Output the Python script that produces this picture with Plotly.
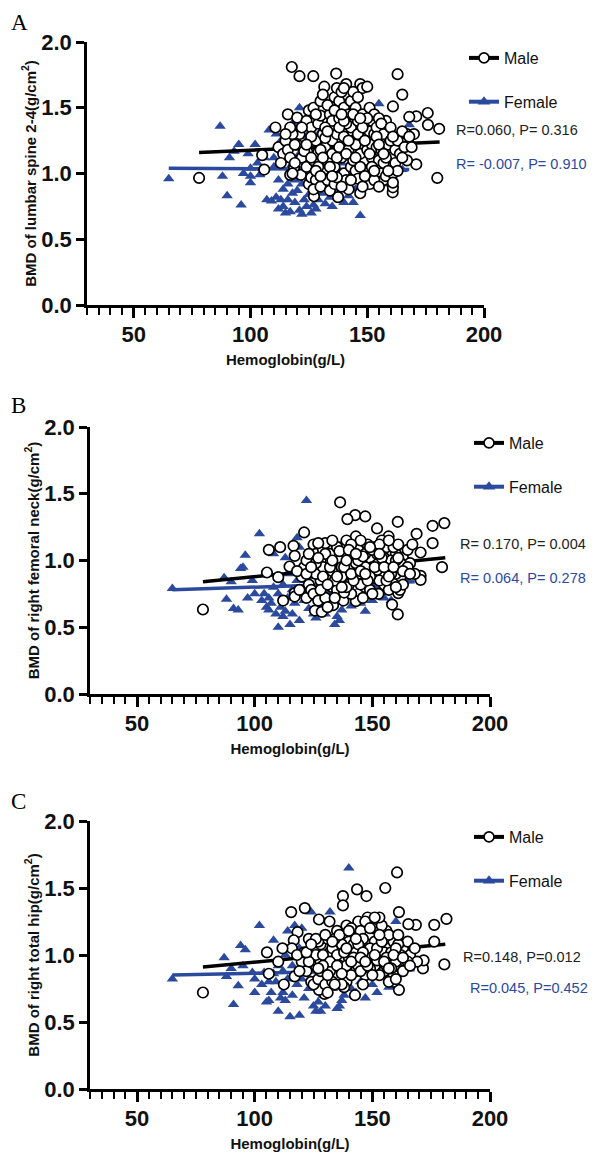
import plotly.graph_objects as go

# ---------------- DATA ----------------
# Panel A: lumbar spine 2-4
male_a_hb = [78, 117.7, 121, 126.9, 136.7, 163, 165, 131.6, 147, 148, 150, 175.9, 171, 168, 180.8, 176, 171, 180,
             161, 158, 165, 167, 170, 168, 160.9, 161, 147, 137.5, 127.2, 110.7, 116, 120, 105, 105.9, 118.7, 117,
             121.6, 124.3, 128,
             120, 121, 122, 123, 124, 125, 126, 127, 124, 125, 126, 127, 128, 129, 129, 128, 127,
             130, 131, 130, 131, 132, 133, 131, 130, 133, 134, 135, 134, 136, 135, 136, 134, 136, 132, 133, 135,
             137, 138, 139, 140, 141, 142, 143, 137, 138, 139, 140, 141, 142, 143, 144, 138, 140, 142, 144, 137,
             139, 141, 143, 144, 140,
             145, 146, 147, 148, 149, 150, 151, 145, 146, 147, 148, 149, 150, 151, 152, 145, 146, 147, 148, 150,
             152, 151, 149, 152,
             153, 154, 155, 156, 157, 158, 159, 160, 153, 154, 155, 156, 157, 158, 159, 160, 161, 162, 153, 155,
             157, 160, 162, 161,
             163, 164, 165, 166, 167, 163, 165, 168, 169,
             112, 114, 115, 116, 117, 118, 119, 117, 118, 119, 113, 115,
             126, 128, 130, 132, 134, 136, 138, 140, 142, 144, 146, 148, 150, 152, 154, 156, 158, 160, 129, 131,
             133, 135, 137, 139, 141, 143, 145, 147, 149, 151, 153, 155, 157, 159, 161, 122, 124, 126, 128, 130]
male_a_bmd = [0.966, 1.81, 1.74, 1.74, 1.76, 1.755, 1.60, 1.66, 1.68, 1.65, 1.66, 1.46, 1.435, 1.43, 1.34, 1.37, 1.07,
              0.966, 1.51, 1.40, 1.31, 1.30, 1.30, 1.22, 0.857, 0.895, 0.85, 0.82, 0.827, 1.35, 1.45, 1.425, 1.14,
              1.03, 1.05, 0.99, 0.99, 1.165, 1.02,
              1.22, 1.30, 1.12, 1.17, 1.40, 1.48, 1.35, 1.50, 1.05, 0.92, 0.97, 1.10, 1.25, 1.38, 1.16, 0.95, 0.88,
              1.55, 1.60, 1.44, 1.30, 1.20, 1.10, 1.02, 0.90, 0.95, 1.36, 1.25, 1.45, 1.58, 1.15, 1.05, 0.87, 0.92,
              1.27, 1.52, 1.40,
              1.65, 1.55, 1.62, 1.50, 1.68, 1.45, 1.35, 1.30, 1.20, 1.12, 1.00, 0.95, 0.88, 1.05, 1.25, 1.42, 1.28,
              1.18, 1.10, 0.97, 0.90, 1.38, 1.55, 1.62, 1.65,
              1.50, 1.40, 1.30, 1.20, 1.10, 1.00, 0.92, 1.02, 0.96, 1.15, 1.45, 1.38, 1.28, 1.50, 1.40, 1.22, 1.58,
              1.05, 0.90, 1.18, 1.12, 1.32, 0.98, 1.22,
              1.30, 1.20, 1.10, 1.00, 0.95, 1.25, 1.15, 1.05, 1.45, 1.35, 1.42, 1.18, 1.08, 0.98, 1.22, 1.12, 1.00,
              1.18, 0.95, 0.90, 1.30, 1.25, 1.08, 0.93,
              1.25, 1.15, 1.32, 1.20, 1.10, 1.02, 1.12, 1.28, 1.20,
              1.20, 1.15, 1.25, 1.18, 1.12, 1.30, 1.22, 1.35, 1.00, 1.08, 1.08, 1.30,
              1.28, 1.45, 1.18, 1.35, 1.05, 1.48, 1.35, 1.40, 1.25, 1.45, 1.30, 1.35, 1.42, 1.05, 1.28, 1.38, 1.12,
              1.35, 1.05, 1.12, 1.32, 0.98, 1.12, 1.45, 1.15, 0.95, 1.12, 1.42, 1.25, 1.15, 1.02, 1.22, 1.15, 1.02,
              1.28, 1.35, 1.22, 1.12, 1.02, 0.98]
female_a_hb = [65, 87, 88, 90, 91, 93, 95, 96, 97, 99, 100, 100, 102, 104, 105, 107, 108, 109, 111, 111, 112, 113, 114,
               115, 116, 117, 118, 119, 120, 121, 122, 123, 124, 125, 126, 127, 128, 129, 130, 132, 134, 135, 136,
               138, 140, 142, 144, 147, 155, 168, 121, 125, 118, 113, 115, 117, 119, 121, 123, 124, 126, 128, 129,
               131, 133, 135, 137, 139, 141, 143, 145, 147, 149, 151, 153, 155, 157, 159, 161, 165, 110, 112, 114,
               116, 118, 120, 122, 127, 130, 132, 134, 110, 106, 103, 100]
female_a_bmd = [0.96, 1.36, 0.98, 0.83, 1.12, 1.17, 1.22, 0.76, 1.00, 1.15, 0.93, 1.04, 1.22, 0.99, 1.04, 0.80, 1.33,
                0.79, 0.82, 1.30, 0.73, 0.80, 0.75, 0.70, 0.80, 0.71, 0.85, 0.78, 0.87, 0.72, 0.69, 0.80, 0.75, 0.84,
                0.70, 0.76, 0.73, 0.80, 0.85, 0.77, 0.82, 0.75, 0.88, 0.80, 0.78, 0.83, 0.78, 0.68, 1.53, 1.37, 1.50,
                1.48, 1.38, 1.25, 1.10, 1.05, 0.95, 1.15, 1.00, 1.28, 1.22, 1.10, 0.95, 1.05, 0.90, 1.02, 0.95, 1.08,
                0.92, 0.98, 0.88, 1.00, 0.92, 0.96, 0.90, 0.95, 1.02, 0.92, 0.97, 1.03, 1.12, 0.95, 0.88, 0.92, 1.12,
                1.05, 0.92, 0.98, 1.32, 1.15, 1.25, 1.05, 1.12, 1.08, 0.98]
male_a_fit_x = [78, 181]
male_a_fit_y = [1.16, 1.24]
female_a_fit_x = [65, 168]
female_a_fit_y = [1.04, 1.03]

# Panel B: right femoral neck
male_b_hb = [78, 136.3, 142.7, 147, 139.4, 160.8, 175.6, 180.6, 175.6, 179.6, 168.8, 170.5, 170.5, 170.5, 160.8,
             158.4, 152, 156.9, 121, 106, 110.8, 105.2, 110, 112.1, 116.5, 117, 114.8, 117, 117, 122, 125.6, 128.5,
             133.3, 137.7, 143, 148.6, 152.6, 161, 161.7,
             120, 121, 122, 123, 124, 125, 126, 127, 128, 129, 130, 131, 132, 133, 134, 135, 136, 137, 138, 139,
             140, 141, 142, 143, 144, 145, 146, 147, 148, 149, 150, 151, 152, 153, 154, 155, 156, 157, 158, 159,
             160, 161, 162, 163, 164, 165, 166, 167, 168, 125, 127, 130, 133, 135, 137, 139, 141, 143, 145, 147,
             149, 151, 153, 155, 157, 159, 161, 163, 128, 132, 136, 140, 144, 148, 152, 156, 160, 126, 134, 142,
             150, 158, 131, 138, 146, 154, 162, 123, 129, 135, 141, 147, 153, 119, 118, 137, 143, 149, 145, 139,
             133, 127, 157, 165, 160,
             126, 128, 130, 132, 134, 136, 138, 140, 142, 144, 146, 148, 150, 152, 154, 156, 158, 160, 129, 131,
             133, 135, 137, 139, 141, 143, 145, 147, 149, 151, 153, 155, 157, 159, 161, 122, 124, 127, 163, 166]
male_b_bmd = [0.633, 1.436, 1.34, 1.33, 1.31, 1.29, 1.26, 1.28, 1.13, 0.95, 1.20, 1.06, 0.885, 0.855, 0.596, 0.67,
              1.24, 1.18, 1.21, 1.08, 1.10, 0.91, 0.875, 0.70, 1.11, 1.035, 0.955, 0.756, 0.73, 0.72, 0.625, 0.615,
              0.665, 0.70, 0.695, 0.756, 0.75, 0.756, 0.78,
              0.88, 0.95, 1.00, 0.82, 0.78, 1.12, 1.05, 0.92, 0.85, 1.08, 1.13, 0.98, 0.88, 0.80, 1.02, 0.95, 0.85,
              1.10, 1.05, 0.90, 0.82, 1.00, 0.93, 1.18, 1.08, 0.98, 0.88, 0.80, 1.12, 1.02, 0.95, 0.87, 1.05, 0.98,
              0.90, 0.82, 1.10, 1.00, 0.93, 0.85, 1.05, 0.95, 0.88, 1.02, 0.92, 1.08, 0.98, 1.12, 0.90, 0.75, 0.70,
              0.72, 0.92, 0.78, 0.88, 1.15, 0.75, 0.85, 1.15, 1.05, 0.78, 1.10, 0.85, 1.02, 0.78, 1.10, 1.12, 0.82,
              1.00, 1.05, 1.00, 0.95, 0.90, 0.92, 0.93, 0.95, 0.90, 0.90, 0.85, 1.05, 1.08, 1.00, 0.65, 0.76, 0.72,
              1.15, 0.98, 1.05, 0.95, 1.10, 1.12, 0.95, 1.12, 0.78, 0.92, 0.95, 0.98, 0.88, 0.82, 0.80, 1.15, 1.13,
              1.15, 0.95, 0.80,
              0.98, 0.78, 1.05, 0.95, 0.72, 1.07, 0.95, 1.08, 0.85, 1.00, 1.03, 0.85, 0.75, 0.97, 1.02, 0.85, 0.90,
              1.00, 0.88, 0.82, 1.00, 0.88, 0.80, 1.00, 0.90, 1.05, 0.92, 0.90, 1.10, 0.95, 1.05, 0.95, 0.88, 0.95,
              1.02, 0.90, 0.95, 1.02, 0.92, 0.90]
female_b_hb = [65, 87, 88, 90, 91, 93, 94, 95, 96, 97, 99, 100, 102, 104, 105, 106, 107, 108, 109, 110, 111, 112,
               113, 114, 115, 116, 117, 118, 119, 120, 121, 122, 123, 124, 125, 126, 127, 128, 130, 131, 132, 134,
               135, 136, 137, 138, 140, 141, 143, 145, 147, 150, 152, 155, 158, 165, 112, 114, 116, 118, 120, 122,
               124, 126, 128, 130, 132, 134, 136, 138, 110, 108, 106, 103, 125, 140, 145, 150, 113, 119]
female_b_bmd = [0.79, 0.87, 0.71, 0.84, 0.64, 0.63, 0.94, 0.95, 1.04, 0.72, 0.85, 0.75, 1.20, 0.75, 0.65, 0.63, 0.68,
                1.05, 0.60, 0.50, 0.65, 0.58, 0.62, 0.72, 0.52, 0.60, 0.68, 1.17, 0.55, 0.78, 0.70, 1.45, 0.64, 0.88,
                0.60, 0.57, 0.72, 0.66, 0.60, 0.75, 0.68, 0.52, 0.58, 0.55, 0.63, 0.78, 1.15, 0.66, 0.70, 0.68, 0.62,
                0.70, 0.80, 0.72, 0.70, 0.85, 0.82, 0.90, 0.78, 0.85, 0.95, 0.85, 0.72, 0.80, 0.88, 1.00, 0.85, 0.92,
                0.80, 0.70, 0.75, 0.80, 0.72, 0.70, 1.00, 0.85, 0.80, 0.82, 1.02, 1.10]
male_b_fit_x = [78, 181]
male_b_fit_y = [0.84, 1.02]
female_b_fit_x = [65, 168]
female_b_fit_y = [0.78, 0.84]

# Panel C: right total hip
male_c_hb = [78, 160.5, 155.5, 143.5, 147.5, 137.5, 137.5, 115.5, 121.3, 127.3, 131.8, 161.3, 181.5, 176.3, 168.5,
             165.3, 176.3, 180.6, 171.5, 171.8, 161.3, 158.9, 142.6, 129.7, 127.3, 112.4, 117, 106, 105.2, 110,
             118.2, 116.6, 115.8, 111.8,
             120, 121, 122, 123, 124, 125, 126, 127, 128, 129, 130, 131, 132, 133, 134, 135, 136, 137, 138, 139,
             140, 141, 142, 143, 144, 145, 146, 147, 148, 149, 150, 151, 152, 153, 154, 155, 156, 157, 158, 159,
             160, 161, 162, 163, 164, 165, 166, 168, 169, 125, 127, 130, 133, 135, 137, 139, 141, 143, 145, 147,
             149, 151, 153, 155, 157, 159, 161, 163, 128, 132, 136, 140, 144, 148, 152, 156, 160, 126, 134, 142,
             150, 158, 131, 138, 146, 154, 162, 123, 129, 135, 141, 147, 153, 119, 118, 137, 143, 149, 145, 139,
             133, 127, 157, 165, 160, 151, 146,
             126, 128, 130, 132, 134, 136, 138, 140, 142, 144, 146, 148, 150, 152, 154, 156, 158, 160, 129, 131,
             133, 135, 137, 139, 141, 143, 145, 147, 149, 151, 153, 155, 157, 159, 161, 122, 124, 127, 163, 166]
male_c_bmd = [0.72, 1.616, 1.50, 1.49, 1.44, 1.44, 1.37, 1.32, 1.35, 1.265, 1.25, 1.32, 1.27, 1.225, 1.225, 1.23,
              1.10, 0.93, 0.90, 0.96, 0.74, 0.80, 0.70, 0.71, 0.74, 0.78, 0.84, 0.86, 1.02, 0.95, 1.17, 1.11, 1.05,
              1.05,
              0.95, 1.02, 0.88, 1.12, 0.80, 1.05, 0.92, 0.98, 1.08, 0.85, 0.95, 1.12, 1.02, 0.90, 0.82, 1.18, 1.05,
              0.95, 0.88, 1.22, 1.10, 1.00, 0.92, 1.15, 1.25, 1.05, 0.95, 0.85, 1.28, 1.15, 1.02, 0.92, 1.22, 1.10,
              1.00, 0.88, 1.18, 1.05, 0.95, 0.85, 1.12, 1.00, 0.92, 1.05, 0.95, 1.10, 1.00, 1.05, 0.95, 0.78, 0.82,
              0.78, 1.05, 0.85, 1.08, 0.80, 1.20, 0.88, 1.18, 1.02, 0.90, 1.10, 0.85, 1.02, 0.80, 1.10, 1.08, 0.88,
              0.95, 0.88, 0.92, 0.98, 0.92, 0.98, 0.96, 0.92, 0.95, 1.00, 1.12, 1.08, 1.20, 1.02, 0.72, 0.76, 0.78,
              1.22, 1.00, 0.95, 1.00, 1.00, 0.85, 1.25, 1.28, 0.88, 1.00, 0.78, 1.02, 1.05, 0.88, 0.92, 0.80, 1.10,
              1.15, 0.95, 0.82, 1.28, 1.12,
              1.12, 0.88, 1.15, 0.95, 0.78, 1.15, 1.02, 1.18, 0.98, 1.08, 1.02, 0.92, 0.85, 1.05, 1.10, 0.98, 0.90,
              1.05, 0.92, 0.85, 1.10, 0.92, 0.86, 1.05, 0.95, 1.12, 0.98, 0.95, 1.20, 1.00, 1.15, 0.95, 0.90, 1.00,
              1.15, 1.02, 1.08, 0.90, 0.98, 0.92]
female_c_hb = [65, 87, 88, 90, 91, 93, 94, 95, 96, 99, 100, 100, 102, 104, 105, 106, 107, 108, 109, 110, 111, 112,
               113, 114, 115, 116, 117, 118, 119, 120, 121, 123, 124, 125, 126, 127, 128, 129, 130, 132, 133, 135,
               136, 137, 138, 140, 141, 143, 145, 147, 150, 152, 157, 160, 165, 112, 114, 116, 118, 120, 122, 124,
               126, 128, 130, 132, 134, 136, 138, 110, 108, 106, 103, 125, 140, 145, 150, 113, 119, 131]
female_c_bmd = [0.82, 0.98, 0.84, 0.90, 0.63, 0.77, 1.07, 0.92, 1.04, 0.87, 0.72, 0.82, 1.22, 0.87, 0.65, 0.66, 0.72,
                1.11, 0.80, 0.58, 0.68, 0.72, 0.66, 1.18, 0.54, 0.70, 1.22, 0.78, 0.55, 1.20, 0.68, 0.75, 1.32, 0.62,
                0.58, 0.65, 0.58, 0.70, 0.62, 1.32, 0.75, 0.60, 0.62, 0.66, 0.70, 1.65, 0.75, 0.72, 0.80, 0.68, 0.78,
                0.72, 0.76, 1.25, 0.90, 0.88, 0.82, 0.92, 0.88, 0.82, 0.95, 0.88, 1.05, 0.82, 0.88, 0.95, 0.85, 0.78,
                0.82, 0.92, 0.86, 0.80, 0.78, 0.78, 0.86, 0.90, 0.88, 1.00, 1.05, 1.00]
male_c_fit_x = [78, 181]
male_c_fit_y = [0.91, 1.08]
female_c_fit_x = [65, 168]
female_c_fit_y = [0.85, 0.89]

y_titles = ["BMD of lumbar spine 2-4(g/cm<sup>2</sup>)",
            "BMD of right femoral neck(g/cm<sup>2</sup>)",
            "BMD of right total hip(g/cm<sup>2</sup>)"]
x_title = "Hemoglobin(g/L)"
panel_letters = ["A", "B", "C"]
male_stats = ["R=0.060, P= 0.316", "R= 0.170, P= 0.004", "R=0.148, P=0.012"]
female_stats = ["R= -0.007, P= 0.910", "R= 0.064, P= 0.278", "R=0.045, P=0.452"]

# ---------------- STYLE ----------------
W, H = 601, 1154
OFF = 8  # page body margin: figure is drawn 8px right/down of window origin
BLUE = "#2B4A9E"
FONT = "Arial, Liberation Sans, sans-serif"


def fx(px):
    return (px - OFF) / W


def fy(py):
    return 1 - (py - OFF) / H


panels = [
    dict(male=(male_a_hb, male_a_bmd), female=(female_a_hb, female_a_bmd),
         mfit=(male_a_fit_x, male_a_fit_y), ffit=(female_a_fit_x, female_a_fit_y),
         xpx=(87, 484), ypx=(305, 42), leg=(464, 41), stat=(454, 130, 454, 164), letter=(9, 8)),
    dict(male=(male_b_hb, male_b_bmd), female=(female_b_hb, female_b_bmd),
         mfit=(male_b_fit_x, male_b_fit_y), ffit=(female_b_fit_x, female_b_fit_y),
         xpx=(90, 490), ypx=(694, 427), leg=(469, 426), stat=(458, 544, 458, 578), letter=(9, 391)),
    dict(male=(male_c_hb, male_c_bmd), female=(female_c_hb, female_c_bmd),
         mfit=(male_c_fit_x, male_c_fit_y), ffit=(female_c_fit_x, female_c_fit_y),
         xpx=(90, 490), ypx=(1089, 821), leg=(469, 820), stat=(461, 957, 468, 988), letter=(9, 787)),
]

fig = go.Figure()
annotations = []
layout = {}
for i, p in enumerate(panels):
    n = "" if i == 0 else str(i + 1)
    xa, ya = "x" + n, "y" + n
    lg = "legend" + n
    fig.add_trace(go.Scatter(x=p["ffit"][0], y=p["ffit"][1], mode="lines", xaxis=xa, yaxis=ya,
                             line=dict(color=BLUE, width=3.5), showlegend=False, hoverinfo="skip"))
    fig.add_trace(go.Scatter(x=p["female"][0], y=p["female"][1], mode="markers", xaxis=xa, yaxis=ya,
                             marker=dict(symbol="triangle-up", size=10, color=BLUE, line=dict(width=0)),
                             showlegend=False))
    fig.add_trace(go.Scatter(x=p["mfit"][0], y=p["mfit"][1], mode="lines", xaxis=xa, yaxis=ya,
                             line=dict(color="black", width=3.5), showlegend=False, hoverinfo="skip"))
    fig.add_trace(go.Scatter(x=p["male"][0], y=p["male"][1], mode="markers", xaxis=xa, yaxis=ya,
                             marker=dict(symbol="circle", size=10.5, color="white",
                                         line=dict(color="black", width=1.7)),
                             showlegend=False))
    fig.add_trace(go.Scatter(x=[None], y=[None], mode="lines+markers", xaxis=xa, yaxis=ya, name="Male",
                             legend=lg, legendgroup="m" + n,
                             line=dict(color="black", width=4),
                             marker=dict(symbol="circle", size=10, color="white", line=dict(color="black", width=1.7))))
    fig.add_trace(go.Scatter(x=[None], y=[None], mode="lines+markers", xaxis=xa, yaxis=ya, name="Female",
                             legend=lg, legendgroup="f" + n,
                             line=dict(color=BLUE, width=4),
                             marker=dict(symbol="triangle-up", size=11, color=BLUE)))
    x0, x1 = p["xpx"]
    yb, yt = p["ypx"]
    layout["xaxis" + n] = dict(
        domain=[fx(x0), fx(x1)], anchor=ya, range=[30, 200], tick0=0, dtick=50,
        showline=True, linewidth=2.5, linecolor="black", mirror=False,
        ticks="outside", ticklen=10, tickwidth=2.5, tickcolor="black", ticklabelstandoff=-2,
        minor=dict(dtick=5, tick0=0, ticks="outside", ticklen=7, tickwidth=2, tickcolor="black"),
        showgrid=False, zeroline=False, automargin=False,
        tickfont=dict(family=FONT, size=22, color="#111111", weight="bold"),
        title=dict(text=x_title, font=dict(family=FONT, size=15, color="#111111", weight="bold"), standoff=9),
    )
    layout["yaxis" + n] = dict(
        domain=[fy(yb), fy(yt)], anchor=xa, range=[0, 2.0], dtick=0.5, tickformat=".1f",
        showline=True, linewidth=2.5, linecolor="black",
        ticks="outside", ticklen=8, tickwidth=2.5, tickcolor="black",
        showgrid=False, zeroline=False, automargin=False,
        tickfont=dict(family=FONT, size=22, color="#111111", weight="bold"),
        title=dict(text=y_titles[i], font=dict(family=FONT, size=15, color="#111111", weight="bold"), standoff=2),
    )
    lx, ly = p["leg"]
    layout[lg] = dict(x=fx(lx), y=fy(ly), xanchor="left", yanchor="top", traceorder="grouped",
                      tracegroupgap=20, font=dict(family=FONT, size=16, color="#111111"),
                      bgcolor="rgba(0,0,0,0)", itemwidth=30)
    sx1, sy1, sx2, sy2 = p["stat"]
    annotations.append(dict(x=fx(sx1), y=fy(sy1), xref="paper", yref="paper", xanchor="left", yanchor="middle",
                            text=male_stats[i], showarrow=False, font=dict(family=FONT, size=14.5, color="#222222")))
    annotations.append(dict(x=fx(sx2), y=fy(sy2), xref="paper", yref="paper", xanchor="left", yanchor="middle",
                            text=female_stats[i], showarrow=False, font=dict(family=FONT, size=14.5, color=BLUE)))
    lx2, ly2 = p["letter"]
    annotations.append(dict(x=fx(lx2), y=fy(ly2), xref="paper", yref="paper", xanchor="left", yanchor="top",
                            text=panel_letters[i], showarrow=False,
                            font=dict(family="Liberation Serif, DejaVu Serif, serif", size=23, color="black")))

fig.update_layout(width=W, height=H, margin=dict(l=0, r=0, t=0, b=0), paper_bgcolor="white",
                  plot_bgcolor="white", annotations=annotations, **layout)
fig.write_html("out.html")
